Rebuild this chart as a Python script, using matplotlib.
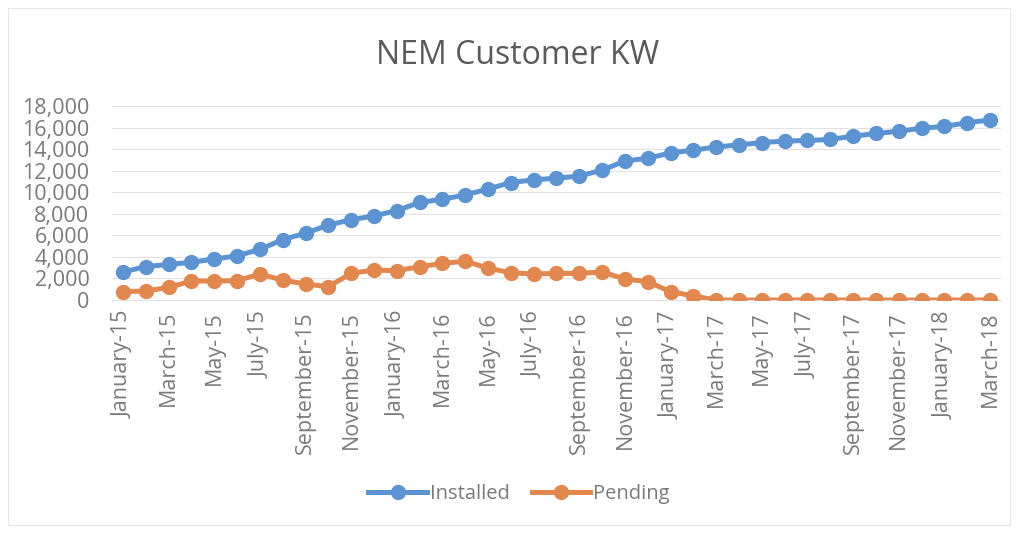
import matplotlib
matplotlib.use("Agg")
import matplotlib.pyplot as plt
from matplotlib.patches import Rectangle

months = [
    "January-15", "February-15", "March-15", "April-15", "May-15", "June-15",
    "July-15", "August-15", "September-15", "October-15", "November-15", "December-15",
    "January-16", "February-16", "March-16", "April-16", "May-16", "June-16",
    "July-16", "August-16", "September-16", "October-16", "November-16", "December-16",
    "January-17", "February-17", "March-17", "April-17", "May-17", "June-17",
    "July-17", "August-17", "September-17", "October-17", "November-17", "December-17",
    "January-18", "February-18", "March-18",
]

installed = [
    2600, 3100, 3300, 3500, 3800, 4100, 4700, 5600, 6200, 6950,
    7450, 7800, 8300, 9050, 9350, 9750, 10300, 10900, 11150, 11300,
    11500, 12050, 12900, 13150, 13650, 13900, 14200, 14400, 14600, 14750,
    14800, 14900, 15200, 15450, 15650, 15950, 16100, 16450, 16700,
]

pending = [
    780, 830, 1170, 1760, 1760, 1790, 2400, 1850, 1480, 1240,
    2470, 2780, 2720, 3090, 3400, 3600, 2950, 2530, 2410, 2470,
    2470, 2600, 1950, 1700, 770, 370, 0, 0, 0, 0,
    0, 0, 0, 0, 0, 0, 0, 0, 0,
]

yticks = [0, 2000, 4000, 6000, 8000, 10000, 12000, 14000, 16000, 18000]

plt.rcParams['font.family'] = ['Open Sans', 'DejaVu Sans']

W, H = 1018, 533
fig = plt.figure(figsize=(W / 100, H / 100), dpi=100)
fig.patch.set_facecolor('white')

left, right, top, bottom = 111.6, 1001.4, 106, 300
ax = fig.add_axes([left / W, 1 - bottom / H, (right - left) / W, (bottom - top) / H])

x = list(range(len(months)))
blue = '#5B93D3'
orange = '#E2874D'
ax.plot(x, installed, color=blue, lw=3.6, marker='o', ms=10, label='Installed', zorder=3)
ax.plot(x, pending, color=orange, lw=3.6, marker='o', ms=10, label='Pending', zorder=3)

ax.set_xlim(-0.5, len(months) - 0.5)
ax.set_ylim(0, 18000)
ax.set_yticks(yticks)
ax.set_yticklabels([f"{v:,}" for v in yticks])
ax.set_xticks(x[::2])
ax.set_xticklabels(months[::2], rotation=90)

ax.grid(axis='y', color='#e2e2e2', lw=0.8)
ax.set_axisbelow(True)
for s in ['top', 'right', 'left']:
    ax.spines[s].set_visible(False)
ax.spines['bottom'].set_color('#e0e0e0')
ax.tick_params(axis='y', length=0, pad=16, labelsize=15.5, labelcolor='#7a7a7a')
ax.tick_params(axis='x', length=0, pad=8, labelsize=15.5, labelcolor='#7a7a7a')

fig.text(518 / W, 1 - 55 / H, 'NEM Customer KW', ha='center', va='center',
         fontsize=23, color='#5a5a5a')

leg = fig.legend(loc='center', bbox_to_anchor=(0.510, 1 - 494 / H), ncol=2,
                 frameon=False, fontsize=14.5, handlelength=2.9, handletextpad=0.15,
                 columnspacing=1.1, labelcolor='#7a7a7a')

fig.patches.append(Rectangle((8 / W, 8 / H), (W - 16) / W, (H - 16) / H,
                             transform=fig.transFigure, fill=False,
                             edgecolor='#e6e6e6', lw=0.8))

fig.savefig('out.png', dpi=100)
